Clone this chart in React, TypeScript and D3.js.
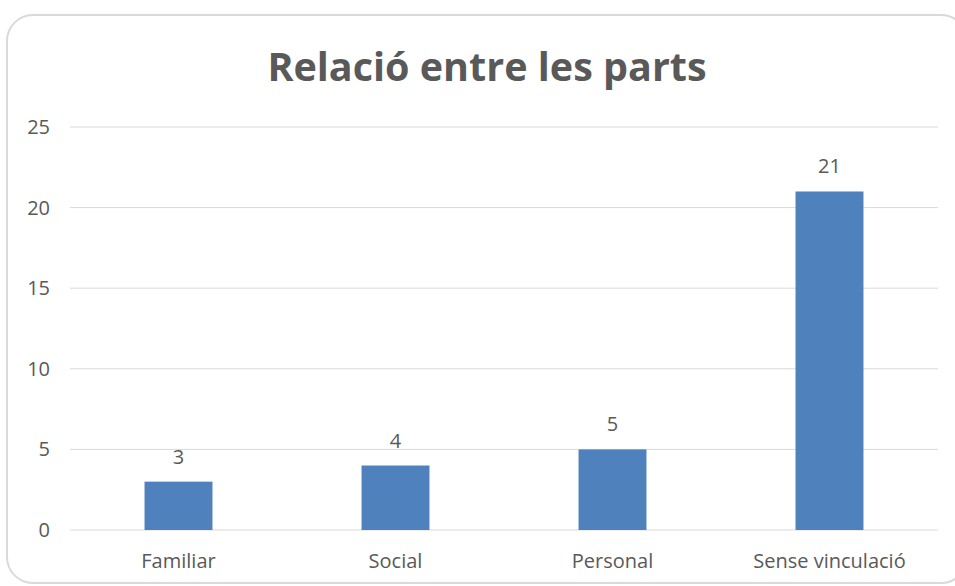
import React from "react";
import * as d3 from "d3";

const categories = ["Familiar", "Social", "Personal", "Sense vinculació"];
const values = [3, 4, 5, 21];
const yTicks = [0, 5, 10, 15, 20, 25];
const title = "Relació entre les parts";

const W = 955;
const H = 586;
const FONT = "'Open Sans', 'Noto Sans', sans-serif";
const TXT = "#595959";

export default function App() {
  const x = d3.scaleBand<string>().domain(categories).range([70, 938]).paddingInner(0.687).paddingOuter(0.3435);
  const y = d3.scaleLinear().domain([0, 25]).range([530, 127]);
  return (
    <svg width={W} height={H} style={{ position: "absolute", left: 0, top: 0, display: "block" }}>
      <rect x={0} y={0} width={W} height={H} fill="#fff" />
      <rect x={7} y={15} width={960} height={568} rx={26} ry={26} fill="#fff" stroke="#d9d9d9" strokeWidth={2} />
      <text x={487} y={81} textAnchor="middle" fontFamily={FONT} fontWeight={700} fontSize={39.5} fill={TXT}>
        {title}
      </text>
      {yTicks.map((t) => (
        <g key={t}>
          <line x1={70} x2={938} y1={y(t)} y2={y(t)} stroke="#d9d9d9" strokeWidth={1} />
          <text x={50} y={y(t)} dy="0.35em" textAnchor="end" fontFamily={FONT} fontSize={20} fill={TXT}>
            {t}
          </text>
        </g>
      ))}
      {categories.map((c, i) => (
        <g key={c}>
          <rect x={x(c)} y={y(values[i])} width={x.bandwidth()} height={y(0) - y(values[i])} fill="#4F81BD" />
          <text x={(x(c) as number) + x.bandwidth() / 2} y={y(values[i]) - 18} textAnchor="middle" fontFamily={FONT} fontSize={20} fill={TXT}>
            {values[i]}
          </text>
          <text x={(x(c) as number) + x.bandwidth() / 2} y={568} textAnchor="middle" fontFamily={FONT} fontSize={20} fill={TXT}>
            {c}
          </text>
        </g>
      ))}
    </svg>
  );
}
